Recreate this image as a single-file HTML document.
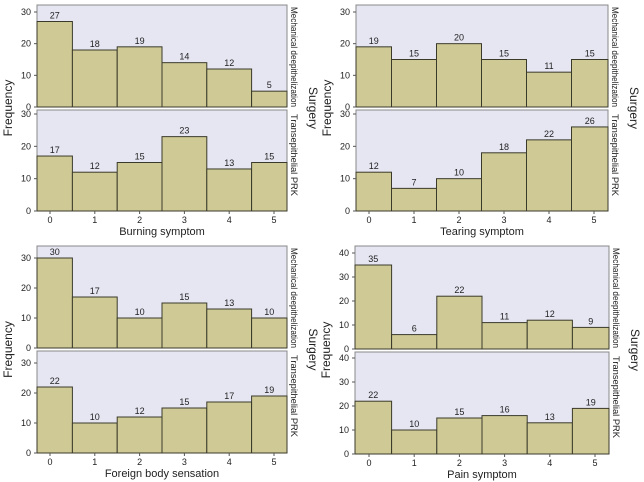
<!DOCTYPE html>
<html><head><meta charset="utf-8"><style>
html,body{margin:0;padding:0;background:#fff;width:644px;height:482px;overflow:hidden}
svg{display:block}
text{font-family:"Liberation Sans",sans-serif;fill:#222}
</style></head><body>
<svg id="s" width="644" height="482" xmlns="http://www.w3.org/2000/svg"></svg>
<script>
var S=document.getElementById('s');var h='';
function panel(o){
 var L=o.L,R=o.R,sp=(o.x5-o.x0)/5;
 [[o.u,o.up],[o.l,o.lp]].forEach(function(p,k){
  var d=p[0],g=p[1];
  var top=g[0],z=g[1],yv=g[2],vm=o.vm;var sc=(z-yv)/vm;
  h+='<rect x="'+L+'" y="'+top+'" width="'+(R-L)+'" height="'+(z-top)+'" fill="#e6e6f3" stroke="#888" stroke-width="1"/>';
  for(var i=0;i<6;i++){
   var a=Math.max(L,o.x0+sp*(i-0.5)),b=Math.min(R,o.x0+sp*(i+0.5));
   var y=z-d[i]*sc;
   h+='<rect x="'+a+'" y="'+y+'" width="'+(b-a)+'" height="'+(z-y)+'" fill="#cfca95" stroke="#3a3a2a" stroke-width="1"/>';
   h+='<text x="'+(a+b)/2+'" y="'+(y-3)+'" font-size="9" text-anchor="middle">'+d[i]+'</text>';
  }
  for(var v=0;v<=vm;v+=10){var yy=z-v*sc;
   h+='<line x1="'+(L-3)+'" x2="'+L+'" y1="'+yy+'" y2="'+yy+'" stroke="#555"/>';
   h+='<text x="'+(L-6)+'" y="'+(yy+3)+'" font-size="9" text-anchor="end">'+v+'</text>';}
  var lab=k==0?'Mechanical deepithelization':'Transepithelial PRK';
  h+='<text transform="translate('+(R+4)+','+(k==0?top+2:top+4)+') rotate(90)" font-size="9" text-anchor="start" textLength="'+(k==0?100:82)+'" lengthAdjust="spacingAndGlyphs">'+lab+'</text>';
 });
 var zb=o.lp[1];
 for(var i=0;i<6;i++){var x=o.x0+sp*i;
  h+='<line x1="'+x+'" x2="'+x+'" y1="'+zb+'" y2="'+(zb+3)+'" stroke="#555"/>';
  h+='<text x="'+x+'" y="'+(zb+12)+'" font-size="9" text-anchor="middle">'+i+'</text>';}
 h+='<text x="'+(L+R)/2+'" y="'+(zb+24)+'" font-size="11" text-anchor="middle">'+o.xl+'</text>';
 var my=(o.up[0]+zb)/2;
 h+='<text transform="translate('+(L-25)+','+my+') rotate(-90)" font-size="12" text-anchor="middle">Frequency</text>';
 h+='<text transform="translate('+(R+22)+','+my+') rotate(90)" font-size="12" text-anchor="middle">Surgery</text>';
}
panel({L:37,R:287,x0:50,x5:274,vm:30,u:[27,18,19,14,12,5],l:[17,12,15,23,13,15],up:[5,107,12],lp:[110,211,114],xl:'Burning symptom'});
panel({L:356,R:608,x0:369,x5:594,vm:30,u:[19,15,20,15,11,15],l:[12,7,10,18,22,26],up:[5,107,12],lp:[110,211,114],xl:'Tearing symptom'});
panel({L:37,R:287,x0:50,x5:274,vm:30,u:[30,17,10,15,13,10],l:[22,10,12,15,17,19],up:[246,348,258],lp:[351,453,363],xl:'Foreign body sensation'});
panel({L:355,R:609,x0:369,x5:595,vm:40,u:[35,6,22,11,12,9],l:[22,10,15,16,13,19],up:[246,349,253],lp:[352,454,358],xl:'Pain symptom'});
S.innerHTML=h;
</script>
</body></html>
